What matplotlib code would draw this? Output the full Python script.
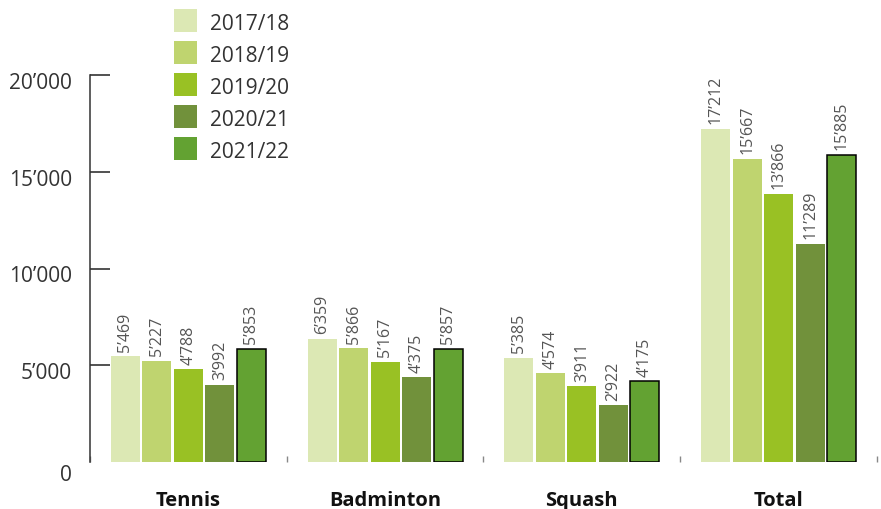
import matplotlib
matplotlib.use("Agg")
import matplotlib.pyplot as plt
import matplotlib.patches as mpatches
import matplotlib.transforms as mtransforms
import numpy as np

plt.rcParams["font.family"] = ["Open Sans", "DejaVu Sans"]

categories = ["Tennis", "Badminton", "Squash", "Total"]
seasons    = ["2017/18", "2018/19", "2019/20", "2020/21", "2021/22"]
values = {
    "2017/18": [5469, 6359, 5385, 17212],
    "2018/19": [5227, 5866, 4574, 15667],
    "2019/20": [4788, 5167, 3911, 13866],
    "2020/21": [3992, 4375, 2922, 11289],
    "2021/22": [5853, 5857, 4175, 15885],
}
yticks = [0, 5000, 10000, 15000, 20000]

COLORS = ["#dce8b4", "#bfd46f", "#99c124", "#71913b", "#63a232"]
W, H = 881, 510

def fmt(v):
    return f"{v:,}".replace(",", "\u2019")

fig = plt.figure(figsize=(W / 100, H / 100), dpi=100)
ax = fig.add_axes([90 / W, 47 / H, (877 - 90) / W, (463 - 76) / H])

x = np.arange(len(categories))
step, bw = 0.16, 0.147
for i, s in enumerate(seasons):
    off = (i - 2) * step
    last = i == len(seasons) - 1
    bars = ax.bar(x + off, values[s], width=bw, color=COLORS[i],
                  edgecolor="black" if last else "none",
                  linewidth=1.1 if last else 0, zorder=2)
    for b, v in zip(bars, values[s]):
        ax.annotate(fmt(v), (b.get_x() + b.get_width() / 2, v),
                    xytext=(0, 4), textcoords="offset points",
                    rotation=90, ha="center", va="bottom",
                    fontsize=11.5, color="#555555", annotation_clip=False)

ax.set_xlim(-0.5, 3.5)
ax.set_ylim(0, 20000)

for sp in ["top", "right", "bottom"]:
    ax.spines[sp].set_visible(False)
ax.spines["left"].set_color("#333333")
ax.spines["left"].set_linewidth(1.1)

ax.set_yticks(yticks)
ax.set_yticklabels([fmt(v) for v in yticks])
ax.tick_params(axis="y", direction="in", length=14.4, width=1.1,
               color="#222222", pad=13, labelsize=15, labelcolor="#333333")
# labels sit a little below their ticks in the original
for k, lbl in enumerate(ax.get_yticklabels()):
    dy = -10 if k == 0 else -5
    lbl.set_transform(lbl.get_transform() +
                      mtransforms.ScaledTranslation(0, dy / 100, fig.dpi_scale_trans))
ax.yaxis.get_major_ticks()[0].tick1line.set_visible(False)

ax.set_xticks(x)
ax.set_xticklabels(categories, fontweight="bold", fontsize=14.5, color="#111111")
ax.tick_params(axis="x", which="major", length=0, pad=20)
ax.set_xticks(np.arange(-0.5, 4, 1.0), minor=True)
ax.tick_params(axis="x", which="minor", direction="in", length=4.5,
               width=1.0, color="#888888")

# legend
for i, s in enumerate(seasons):
    cy = 21 + 32 * i
    fig.add_artist(mpatches.Rectangle((174 / W, 1 - (cy + 11.5) / H), 23 / W, 23 / H,
                                      transform=fig.transFigure, facecolor=COLORS[i],
                                      edgecolor="none"))
    fig.text(210 / W, 1 - (cy + 3) / H, s, fontsize=15, color="#333333",
             ha="left", va="center")

fig.savefig("out.png", dpi=100)
